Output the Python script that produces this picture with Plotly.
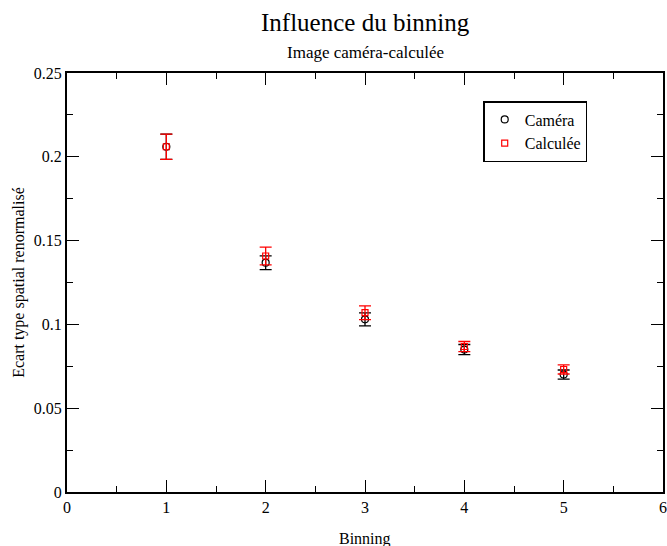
import plotly.graph_objects as go

binning = [1, 2, 3, 4, 5]
camera = [0.206, 0.1368, 0.1030, 0.0850, 0.0701]
camera_err = [0.0075, 0.0041, 0.0039, 0.0030, 0.0027]
calculee = [0.206, 0.1408, 0.1070, 0.0868, 0.0731]
calculee_err = [0.0075, 0.0053, 0.0041, 0.0030, 0.0027]

FONT = "Liberation Serif"

fig = go.Figure()
fig.add_trace(go.Scatter(
    x=binning, y=camera, mode="markers", name="Caméra",
    marker=dict(symbol="circle-open", size=7, color="black", line=dict(width=1.2)),
    error_y=dict(type="data", array=camera_err, color="black", thickness=1.3, width=6),
))
fig.add_trace(go.Scatter(
    x=binning, y=calculee, mode="markers", name="Calculée",
    marker=dict(symbol="square-open", size=6, color="red", line=dict(width=1.2)),
    error_y=dict(type="data", array=calculee_err, color="red", thickness=1.3, width=6),
))

axis_common = dict(
    showgrid=False, zeroline=False, showline=True, linecolor="black", linewidth=2,
    mirror="allticks", ticks="inside", ticklen=12, tickwidth=1, tickcolor="black",
    tickfont=dict(family=FONT, size=16, color="black"),
    ticklabeloverflow="allow",
)
fig.update_xaxes(range=[0, 6], dtick=1, tick0=0,
                 minor=dict(ticks="inside", ticklen=6, dtick=0.5, tickcolor="black", tickwidth=1),
                 **axis_common)
fig.update_yaxes(range=[0, 0.25],
                 tickvals=[0, 0.05, 0.1, 0.15, 0.2, 0.25],
                 ticktext=["0", "0.05", "0.1", "0.15", "0.2", "0.25"],
                 minor=dict(ticks="inside", ticklen=6, dtick=0.025, tickcolor="black", tickwidth=1),
                 **axis_common)

plot_h = 546 - 73 - 54
def py(pix_y):
    return (492 - pix_y) / plot_h

fig.update_layout(
    width=667, height=546,
    margin=dict(l=67, r=0, t=73, b=54),
    paper_bgcolor="white", plot_bgcolor="white",
    font=dict(family=FONT, color="black"),
    showlegend=True,
    legend=dict(x=(486 - 67) / 600, y=py(101), xanchor="left", yanchor="top",
                bordercolor="black", borderwidth=1.5, bgcolor="white",
                font=dict(family=FONT, size=16, color="black"),
                tracegroupgap=0),
    annotations=[
        dict(text="Influence du binning", x=0.5, y=py(22), xref="paper", yref="paper",
             yanchor="middle", showarrow=False, font=dict(size=25, family=FONT)),
        dict(text="Image caméra-calculée", x=0.5, y=py(53), xref="paper", yref="paper",
             yanchor="middle", showarrow=False, font=dict(size=17, family=FONT)),
        dict(text="Ecart type spatial renormalisé", x=(18 - 67) / 600, y=0.5,
             xref="paper", yref="paper", xanchor="center",
             showarrow=False, textangle=-90, font=dict(size=16, family=FONT)),
        dict(text="Binning", x=0.5, y=py(539), xref="paper", yref="paper",
             yanchor="middle", showarrow=False, font=dict(size=16, family=FONT)),
    ],
)

fig.write_html(
    "out.html",
    config={"displayModeBar": False},
    post_script="document.body.style.margin='0';document.body.style.overflow='hidden';",
)
